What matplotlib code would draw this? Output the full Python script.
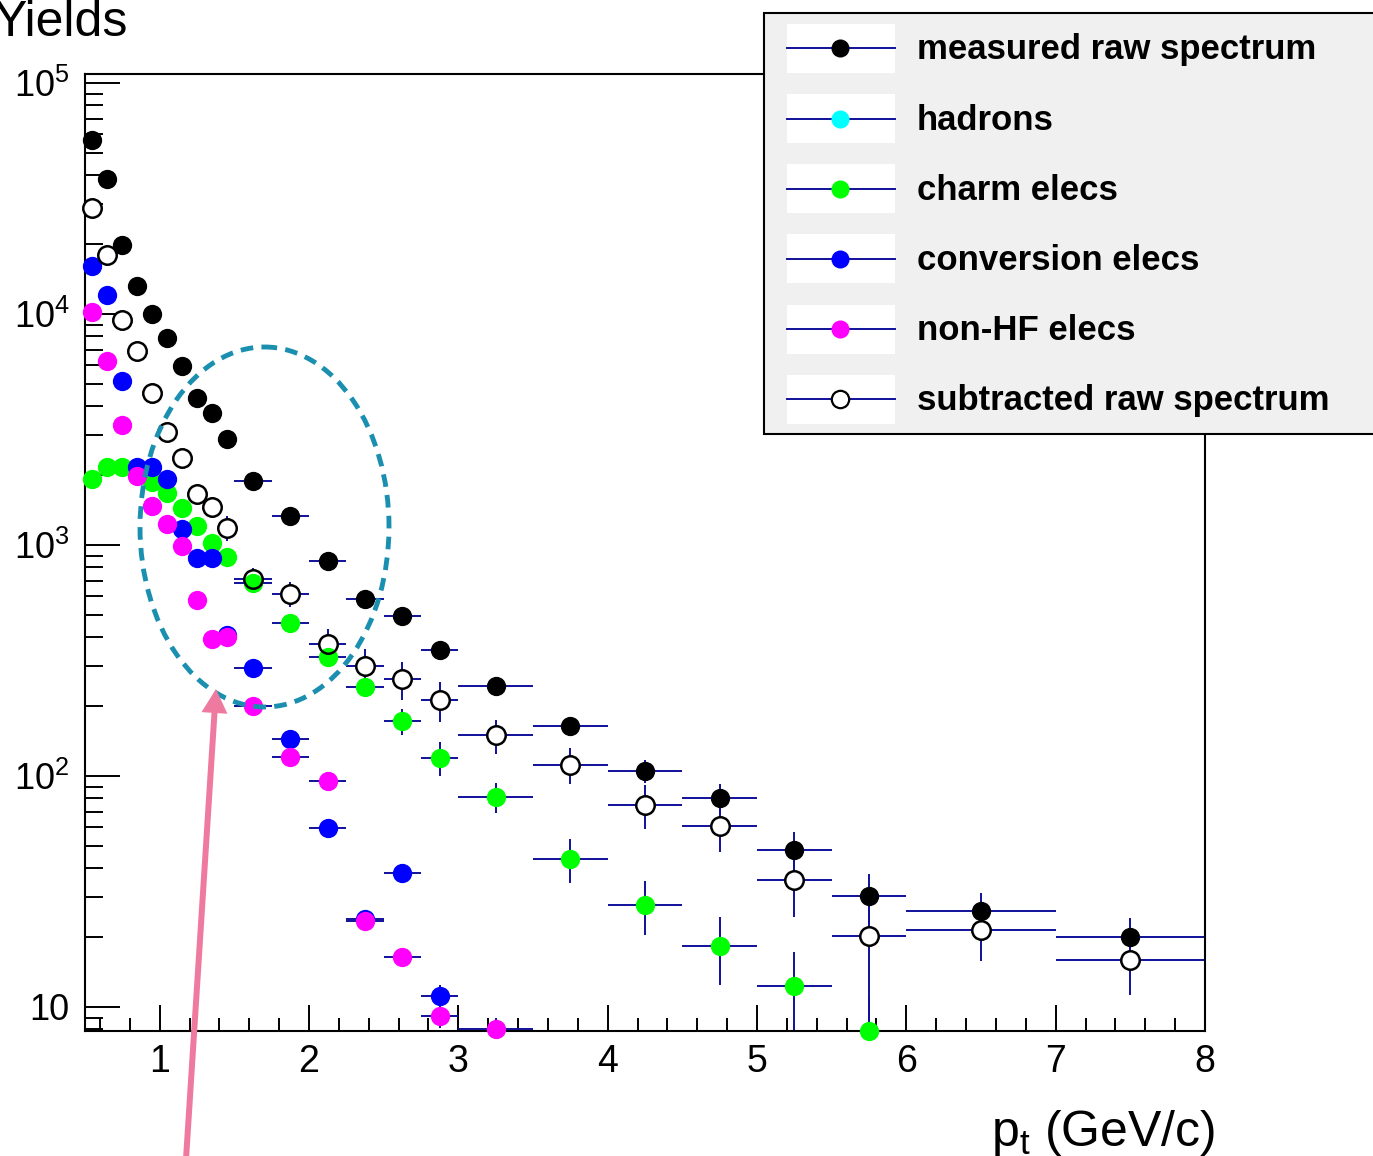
import numpy as np
import matplotlib
matplotlib.use("Agg")
import matplotlib.pyplot as plt
from matplotlib import patches, ticker

# bin edges of the pt histogram (GeV/c)
bin_edges = [0.5, 0.6, 0.7, 0.8, 0.9, 1.0, 1.1, 1.2, 1.3, 1.4, 1.5,
             1.75, 2.0, 2.25, 2.5, 2.75, 3.0, 3.5, 4.0, 4.5, 5.0, 5.5, 6.0, 7.0, 8.0]

measured = [5.66e4, 3.84e4, 1.99e4, 1.32e4, 1.0e4, 7.87e3, 5.96e3, 4.33e3, 3.73e3, 2.88e3,
            1.89e3, 1.34e3, 853, 584, 493, 351, 245, 164, 105, 80, 47.9, 30.2, 26, 20.1]
measured_err = [600, 400, 250, 180, 150, 120, 100, 80, 75, 65,
                45, 40, 30, 25, 22, 20, 15, 15, 12, 12, 9.5, 7.5, 5, 4.2]

subtracted = [2.88e4, 1.8e4, 9.42e3, 6.92e3, 4.55e3, 3.08e3, 2.38e3, 1.66e3, 1.46e3, 1.19e3,
              713, 614, 372, 299, 263, 213, 150, 112, 75, 61, 35.5, 20.3, 21.5, 16]
subtracted_err = [300, 250, 150, 120, 110, 100, 150, 100, 150, 150,
                  80, 75, 60, 55, 50, 42, 25, 20, 16, 14, 11, 13, 5.7, 4.7]

charm = [1.93e3, 2.18e3, 2.18e3, 2.0e3, 1.87e3, 1.68e3, 1.45e3, 1.21e3, 1.02e3, 887,
         684, 459, 327, 243, 173, 120, 81, 43.8, 27.7, 18.4, 12.3, 7.9, np.nan, np.nan]
charm_err = [40, 40, 40, 40, 40, 35, 35, 30, 30, 25,
             20, 15, 15, 18, 22, 20, 12, 9.5, 7.3, 6, 5, 3, np.nan, np.nan]

conversion = [1.61e4, 1.21e4, 5.13e3, 2.18e3, 2.18e3, 1.93e3, 1.17e3, 880, 880, 407,
              294, 145, 59.6, 24.0, 38, 11.2, np.nan, np.nan, np.nan, np.nan, np.nan, np.nan, np.nan, np.nan]
conversion_err = [300, 250, 120, 60, 60, 50, 35, 25, 25, 15,
                  10, 6, 3, 2, 3, 1.2, np.nan, np.nan, np.nan, np.nan, np.nan, np.nan, np.nan, np.nan]

nonhf = [1.02e4, 6.26e3, 3.31e3, 1.99e3, 1.48e3, 1.23e3, 990, 578, 392, 400,
         201, 121, 95, 23.6, 16.4, 9.1, 8.0, np.nan, np.nan, np.nan, np.nan, np.nan, np.nan, np.nan]
nonhf_err = [200, 150, 100, 60, 50, 40, 35, 25, 20, 20,
             10, 6, 5, 2, 1.5, 1, 1, np.nan, np.nan, np.nan, np.nan, np.nan, np.nan, np.nan]

legend_labels = ["measured raw spectrum", "hadrons", "charm elecs",
                 "conversion elecs", "non-HF elecs", "subtracted raw spectrum"]
legend_colors = ["black", "#00ffff", "#00ff00", "#0000ff", "#ff00ff", None]

plt.rcParams['font.family'] = ['Liberation Sans', 'DejaVu Sans']
plt.rcParams['mathtext.fontset'] = 'custom'
plt.rcParams['mathtext.rm'] = 'Liberation Sans'
plt.rcParams['mathtext.it'] = 'Liberation Sans:italic'
plt.rcParams['mathtext.bf'] = 'Liberation Sans:bold'

W, H = 1373, 1156
EBAR = "#10109a"

edges = np.array(bin_edges)
pt = 0.5 * (edges[1:] + edges[:-1])
half = 0.5 * (edges[1:] - edges[:-1])

fig = plt.figure(figsize=(W / 100, H / 100), dpi=100)
ax = fig.add_axes([85 / W, (H - 1031) / H, 1120 / W, 957 / H])

series = [
    (measured, measured_err, "black"),
    (subtracted, subtracted_err, None),
    (charm, charm_err, "#00ff00"),
    (conversion, conversion_err, "#0000ff"),
    (nonhf, nonhf_err, "#ff00ff"),
]
for vals, errs, col in series:
    ax.errorbar(pt, vals, xerr=half, yerr=errs, fmt='none', ecolor=EBAR,
                elinewidth=1.4, capsize=0, zorder=2)

# white body of the open markers, then filled markers, then the open outlines
ax.plot(pt, subtracted, 'o', ms=13.3, mfc='white', mec='none', zorder=3, clip_on=False)
for vals, errs, col in series:
    if col is None:
        continue
    ax.plot(pt, vals, 'o', ms=13.9, mfc=col, mec='none', zorder=4, clip_on=False)
ax.plot(pt, subtracted, 'o', ms=13.3, mfc='none', mec='black', mew=1.8, zorder=5, clip_on=False)

ax.set_xlim(0.5, 8)
ax.set_yscale('log')
ax.set_ylim(7.87, 1.094e5)

ax.xaxis.set_major_locator(ticker.MultipleLocator(1))
ax.xaxis.set_minor_locator(ticker.MultipleLocator(0.2))
ax.yaxis.set_major_locator(ticker.LogLocator(base=10))
ax.yaxis.set_minor_locator(ticker.LogLocator(base=10, subs=np.arange(2, 10)))
ax.yaxis.set_minor_formatter(ticker.NullFormatter())


def ylab(v, pos):
    e = int(round(np.log10(v)))
    if e == 1:
        return "10"
    return "$\\mathregular{10^{%d}}$" % e


ax.yaxis.set_major_formatter(ticker.FuncFormatter(ylab))

ax.tick_params(axis='x', which='major', direction='in', length=19, width=1.4,
               labelsize=27, pad=9, top=False)
ax.tick_params(axis='x', which='minor', direction='in', length=9.5, width=1.4, top=False)
ax.tick_params(axis='y', which='major', direction='in', length=25, width=1.4,
               labelsize=26, pad=11, right=False)
ax.tick_params(axis='y', which='minor', direction='in', length=13, width=1.4, right=False)
for s in ax.spines.values():
    s.set_linewidth(1.5)

# overlay in pixel coordinates for legend, titles and annotations
ov = fig.add_axes([0, 0, 1, 1], zorder=10)
ov.set_xlim(0, W)
ov.set_ylim(H, 0)
ov.axis('off')

ov.text(-6, 36, "Yields", fontsize=36, ha='left', va='baseline')
ov.text(1215, 1146, "p$_{\\mathregular{t}}$ (GeV/c)", fontsize=36, ha='right', va='baseline')

ov.add_patch(patches.Rectangle((764, 13), 650, 421, fc='#f0f0f0', ec='black', lw=1.5))
for i, (lab, col) in enumerate(zip(legend_labels, legend_colors)):
    c = 48.3 + 70.2 * i
    ov.add_patch(patches.Rectangle((787, c - 24.5), 108, 49, fc='white', ec='none'))
    ov.plot([787, 895], [c, c], color=EBAR, lw=1.4)
    if col is None:
        ov.plot([840], [c], 'o', ms=12.5, mfc='white', mec='black', mew=1.6)
    else:
        ov.plot([840], [c], 'o', ms=13, mfc=col, mec='none')
    ov.text(917, c + 11, lab, fontsize=25, fontweight='bold', ha='left', va='baseline')

ov.add_patch(patches.Ellipse((264.5, 527), 249, 360, fill=False, ec='#1a8fb0', lw=3.5,
                             linestyle=(0, (2.6, 1.7))))
ov.add_patch(patches.FancyArrow(185, 1175, 216 - 185, 689 - 1175, width=6, head_width=26,
                                head_length=24, length_includes_head=True,
                                fc='#ee7aa0', ec='none'))

fig.savefig("out.png", dpi=100)
